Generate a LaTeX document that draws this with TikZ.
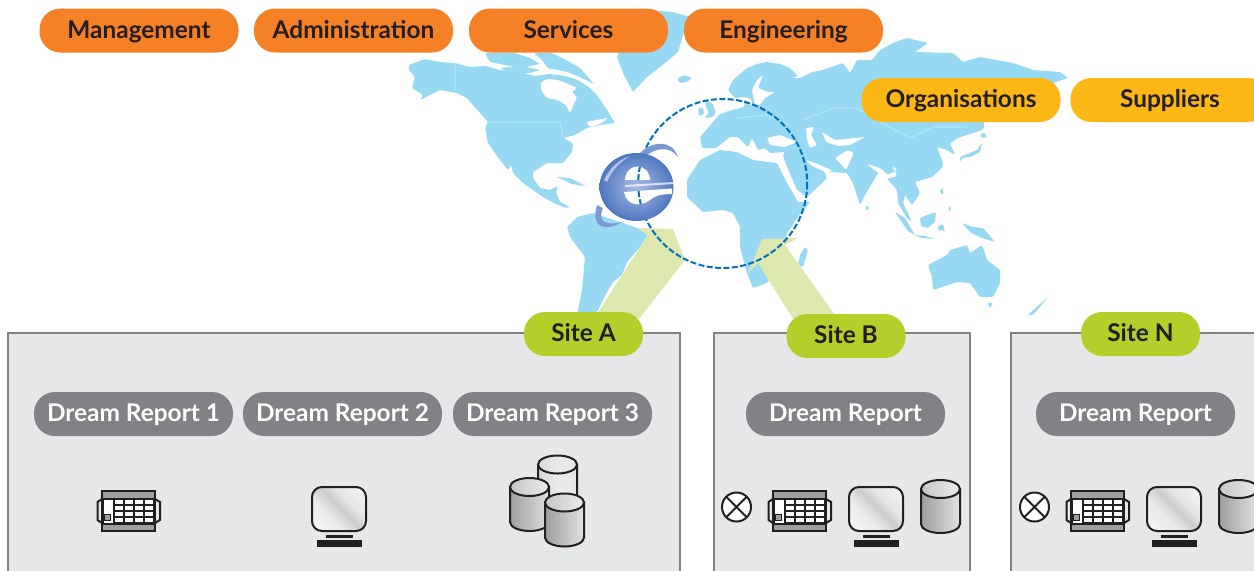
\documentclass[tikz,border=0pt]{standalone}
\usepackage{fontspec}
\setmainfont{Lato}[BoldFont=* Bold]
\usetikzlibrary{shapes.geometric}
\definecolor{land}{HTML}{97D9F3}
\definecolor{orangepill}{HTML}{F58025}
\definecolor{yellowpill}{HTML}{FDB714}
\definecolor{greenpill}{HTML}{B5CE2A}
\definecolor{greenband}{HTML}{DDE8AE}
\definecolor{greypill}{HTML}{808285}
\definecolor{sitefill}{HTML}{E6E7E8}
\definecolor{ink}{HTML}{231F20}
\definecolor{ring}{HTML}{0072BC}
\definecolor{iedark}{HTML}{4F78C2}
\pgfdeclarehorizontalshading{screenshade}{100bp}{color(0bp)=(white);color(38bp)=(white!92!black);color(52bp)=(white!80!black);color(62bp)=(white!90!black);color(100bp)=(white)}
\pgfdeclarehorizontalshading{cylshade}{100bp}{color(0bp)=(white!55!black);color(25bp)=(white!62!black);color(55bp)=(white!78!black);color(75bp)=(white!88!black);color(100bp)=(white!80!black)}
\pgfdeclarehorizontalshading{cyllight}{100bp}{color(0bp)=(white!78!black);color(50bp)=(white!92!black);color(100bp)=(white!88!black)}
\pgfdeclarehorizontalshading{toplight}{100bp}{color(0bp)=(white!70!black);color(100bp)=(white)}
\tikzset{
  pillbase/.style={rounded corners=10.5pt,minimum width=99.5pt,minimum height=22pt,inner sep=0pt,text height=8.7pt,text depth=1pt,font=\fontsize{12.2}{13}\selectfont\bfseries,text=ink},
  deptpill/.style={pillbase,fill=orangepill},
  orgpill/.style={pillbase,fill=yellowpill},
  sitepill/.style={pillbase,fill=greenpill,minimum width=59.5pt},
  reportpill/.style={pillbase,fill=greypill,text=white},
  sitebox/.style={draw=greypill,fill=sitefill,line width=1pt},
  landmass/.style={fill=land},
  sea/.style={fill=white},
  icon/.style={draw=ink,line width=1pt},
  cylinderpic/.pic={
    \path[icon,shading=cylshade] (-19.5,-17.5) -- (-19.5,17.5) arc[x radius=19.5,y radius=9,start angle=180,end angle=0] -- (19.5,-17.5) -- cycle;
    \path[icon,shading=toplight] (0,-17.5) ellipse[x radius=19.5,y radius=9];
  },
  backcylinder/.pic={
    \path[icon,shading=cyllight] (-19.5,-17.5) -- (-19.5,17.5) arc[x radius=19.5,y radius=9,start angle=180,end angle=0] -- (19.5,-17.5) -- cycle;
    \path[icon,shading=cyllight] (0,-17.5) ellipse[x radius=19.5,y radius=9];
  },
  monitorpic/.pic={
    \path[icon,rounded corners=5pt,shading=screenshade,shading angle=45] (-27,-22) rectangle (27,22);
    \fill[ink] (-13.5,25.5) rectangle (13.5,28.5);
    \fill[ink] (-22.5,30.5) rectangle (22.5,38);
  },
  keypadpic/.pic={
    \draw[icon,fill=sitefill] (-31,-9) -- (-26.5,-12) -- (26.5,-12) -- (31.5,-9) -- (31.5,9) -- (26.5,12) -- (-26.5,12) -- (-31,9) -- cycle;
    \draw[icon,fill=white!62!black] (-26.5,-20) rectangle (26.5,20);
    \fill[ink] (-26.5,-13.5) rectangle (26.5,13.5);
    \fill[white] (-24.5,-11.5) rectangle (-15.5,11.5);
    \draw[ink,fill=white!62!black,line width=.5pt] (-24,3.5) rectangle (-18,9.5);
    \foreach \cx in {-14,-4,6,16} \foreach \cy in {-11.5,-5.5,.5,6.5}
      \fill[white] (\cx,\cy) rectangle +(8,4.5);
  },
  crosspic/.pic={
    \draw[icon,fill=white] (0,0) circle[radius=14.5];
    \draw[icon] (-10.2,-10.2) -- (10.2,10.2) (-10.2,10.2) -- (10.2,-10.2);
  }
}
\begin{document}
\begin{tikzpicture}[x=0.5pt,y=-0.5pt]
\clip (0,0) rectangle (1254,570);
\fill[white] (0,0) rectangle (1254,570);
% --- map
\begin{scope}[rounded corners=0.6pt]
% North America
\fill[landmass] (409,65)--(425,59)--(440,62)--(455,63)--(470,67)--(485,66)--(500,70)--(520,72)--(535,76)--(550,74)--(565,76)--(578,80)--(590,88)--(597,95)--(607,110)--(615,123)--(600,125)--(587,128)--(575,135)--(563,138)--(573,143)--(572,152)--(563,163)--(547,163)--(533,172)--(533,178)--(540,188)--(550,190)--(558,186)--(556,192)--(560,202)--(570,207)--(566,208)--(556,204)--(543,197)--(523,183)--(513,173)--(511,165)--(508,170)--(500,160)--(488,143)--(485,128)--(488,122)--(480,113)--(467,98)--(457,93)--(440,90)--(430,95)--(420,100)--(423,95)--(412,88)--(415,77)--(409,70)--cycle;
% Hudson Bay and gulf of St Lawrence
\fill[sea] (541,82)--(548,79)--(558,80)--(568,84)--(577,88)--(572,92)--(577,97)--(570,113)--(566,105)--(558,100)--(547,98)--(541,90)--cycle;
\fill[sea] (586,122)--(596,120)--(608,118)--(600,124)--(590,127)--cycle;
% Arctic islands
\fill[landmass] (485,53)--(515,53)--(530,58)--(540,64)--(520,68)--(505,65)--(490,62)--cycle;
\fill[landmass] (534,53)--(552,53)--(566,60)--(580,68)--(594,84)--(582,78)--(568,72)--(548,68)--(542,60)--cycle;
\fill[landmass] (500,68)--(522,66)--(540,70)--(530,73)--(512,73)--cycle;
% Greenland
\fill[landmass] (625,40)--(650,10)--(672,12)--(695,18)--(683,35)--(678,52)--(660,67)--(647,77)--(633,92)--(623,73)--(617,57)--cycle;
\fill[landmass] (677,79)--(684,75)--(692,78)--(687,82)--(680,83)--cycle;
% South America
\fill[landmass] (567,227)--(577,217)--(593,213)--(620,222)--(637,228)--(648,235)--(640,247)--(627,262)--(622,275)--(613,282)--(607,292)--(597,312)--(578,316)--(578,310)--(582,290)--(585,257)--(570,237)--cycle;
% Cuba
\fill[landmass] (557,177)--(570,178)--(586,186)--(572,184)--cycle;
% Eurasia
\fill[landmass] (700,137)--(708,128)--(712,123)--(720,114)--(732,110)--(744,107)--(745,99)--(748,105)--(752,105)--(752,100)--(745,97)--(735,98)--(728,90)--(733,80)--(747,68)--(757,64)--(767,62)--(780,64)--(790,68)--(798,76)--(792,78)--(800,78)--(812,72)--(823,70)--(843,63)--(850,73)--(857,60)--(872,60)--(880,50)--(895,42)--(907,38)--(928,43)--(915,52)--(953,53)--(963,62)--(980,57)--(1013,63)--(1033,70)--(1060,72)--(1068,78)--(1050,84)--(1010,110)--(983,122)--(985,126)--(982,130)--(967,135)--(960,137)--(950,143)--(955,155)--(947,150)--(937,147)--(943,163)--(942,168)--(932,177)--(915,182)--(920,193)--(912,205)--(905,195)--(903,203)--(912,222)--(907,218)--(898,203)--(897,190)--(890,182)--(880,170)--(865,195)--(860,205)--(853,183)--(847,173)--(830,172)--(815,162)--(822,168)--(827,178)--(820,185)--(807,197)--(797,190)--(785,162)--(783,155)--(785,152)--(770,153)--(765,148)--(758,150)--(752,138)--(748,147)--(738,137)--(730,137)--(716,148)--(702,148)--cycle;
% inland seas
\fill[sea] (767,138)--(780,135)--(797,142)--(785,147)--(770,145)--cycle;
\fill[sea] (755,105)--(752,90)--(757,80)--(763,75)--(758,88)--(768,92)--(775,92)--(765,98)--(760,105)--cycle;
\fill[sea] (806,128)--(814,127)--(811,135)--(817,145)--(810,148)--(807,140)--cycle;
\fill[sea] (822,132)--(835,140)--(865,137)--(850,145)--(838,146)--(826,142)--cycle;
\fill[sea] (835,158)--(848,150)--(854,153)--(846,170)--(842,165)--cycle;
\fill[sea] (806,160)--(820,165)--(833,171)--(826,172)--(812,166)--cycle;
\fill[sea] (867,164)--(880,168)--(888,175)--(897,170)--(892,165)--(897,176)--(886,179)--cycle;
% Britain
\fill[landmass] (705,100)--(712,103)--(716,112)--(713,117)--(705,118)--(709,112)--(706,107)--cycle;
\fill[landmass] (698,109)--(703,107)--(704,114)--(699,116)--cycle;
% Africa
\fill[landmass] (687,180)--(700,160)--(720,150)--(737,152)--(753,160)--(777,163)--(787,183)--(798,202)--(810,202)--(798,217)--(787,233)--(780,263)--(767,283)--(753,288)--(747,273)--(740,247)--(740,227)--(733,213)--(723,210)--(703,212)--(687,197)--cycle;
\fill[landmass] (805,247)--(808,250)--(803,267)--(798,265)--(800,255)--cycle;
% Asia-Pacific islands
\fill[landmass] (895,212)--(905,218)--(915,235)--(908,231)--cycle;
\fill[landmass] (914,235)--(925,236)--(935,239)--(922,238)--cycle;
\fill[landmass] (920,218)--(930,214)--(936,212)--(935,222)--(928,228)--(921,226)--cycle;
\fill[landmass] (938,226)--(943,224)--(945,232)--(941,229)--(939,232)--cycle;
\fill[landmass] (940,190)--(943,188)--(943,195)--(941,194)--cycle;
\fill[landmass] (948,207)--(951,207)--(950,212)--cycle;
\fill[landmass] (962,223)--(973,227)--(983,228)--(995,242)--(982,238)--(970,232)--cycle;
\fill[landmass] (960,157)--(977,150)--(982,143)--(980,152)--(970,157)--(962,158)--(960,162)--cycle;
\fill[landmass] (980,134)--(985,133)--(987,137)--(982,138)--cycle;
\fill[landmass] (866,205)--(868,206)--(869,210)--(866,210)--cycle;
% Australia
\fill[landmass] (928,265)--(947,255)--(950,250)--(967,245)--(970,253)--(982,245)--(987,260)--(1000,270)--(1000,283)--(993,297)--(980,297)--(970,283)--(957,282)--(933,290)--(932,277)--cycle;
\fill[landmass] (987,303)--(993,303)--(990,308)--cycle;
\fill[landmass] (1028,315)--(1040,304)--(1048,297)--(1043,303)--(1033,315)--cycle;
\end{scope}
% country lines
\draw[white,opacity=.45,line width=.3pt] (803,120)--(833,108)--(857,108)--(880,122)--(910,138)--(933,127)--(967,127) (485,122)--(560,122)--(563,138) (455,63)--(455,90) (738,118)--(765,115)--(790,125);
% --- link bands
\fill[greenband] (637,228)--(673,229)--(685,260)--(628,333)--(590,325)--(648,235)--cycle;
\fill[greenband] (762,239)--(798,238)--(785,245)--(840,322)--(797,325)--(758,263)--(748,273)--cycle;
% --- coverage circle
\coordinate (hub) at (722.7,183.5);
\draw[ring,line width=1pt,dash pattern=on 3pt off 1.2pt] (hub) circle[radius=84.5];
% --- browser logo
\fill[iedark!75!white] (640,153) .. controls (650,142) and (672,138) .. (678,157) .. controls (670,145) and (652,148) .. (645,158) -- cycle;
\fill[iedark!75!white] (597,205) .. controls (590,228) and (605,232) .. (622,222) .. controls (606,226) and (597,222) .. (603,208) -- cycle;
\path[inner color=iedark!50!white,outer color=iedark] (636.5,187) ellipse[x radius=37,y radius=34];
\fill[white] (625,180) .. controls (626,162) and (649,162) .. (650,180) -- cycle;
\fill[white] (624,192) -- (672,188.5) -- (672,194) .. controls (660,194) and (655,196) .. (650,200) .. controls (640,208) and (626,205) .. (624,192) -- cycle;
\fill[white,opacity=.55] (604,180) .. controls (610,168) and (618,160) .. (630,156) .. controls (620,162) and (612,170) .. (607,182) -- cycle;
\fill[white,opacity=.7] (625,185) -- (674,182) -- (674,184) -- (625,187) -- cycle;
\begin{scope}
\clip (625,180) .. controls (626,162) and (649,162) .. (650,180) -- cycle
      (624,192) -- (672,188.5) -- (672,194) .. controls (660,194) and (655,196) .. (650,200) .. controls (640,208) and (626,205) .. (624,192) -- cycle;
\draw[ring,line width=1pt,dash pattern=on 3pt off 1.2pt] (hub) circle[radius=84.5];
\end{scope}
% --- site boxes
\draw[sitebox] (8,333) rectangle (680,600);
\draw[sitebox] (714,333) rectangle (970,600);
\draw[sitebox] (1011,333) rectangle (1300,600);
% --- top pills
\node[deptpill] (management) at (139,30.5) {Management};
\node[deptpill] (administration) at (353.5,30.5) {Administration};
\node[deptpill] (services) at (568.5,30.5) {Services};
\node[deptpill] (engineering) at (783.5,30.5) {Engineering};
\node[orgpill] (organisations) at (961,100) {Organisations};
\node[orgpill] (suppliers) at (1170,100) {Suppliers};
% --- site pills
\node[sitepill] (siteA) at (583.5,334) {Site A};
\node[sitepill] (siteB) at (846,336) {Site B};
\node[sitepill] (siteN) at (1140.5,334) {Site N};
% --- report pills
\node[reportpill] (report1) at (133.5,414) {Dream Report 1};
\node[reportpill] (report2) at (342.5,414) {Dream Report 2};
\node[reportpill] (report3) at (552.5,414) {Dream Report 3};
\node[reportpill] (reportB) at (845.5,414) {Dream Report};
\node[reportpill] (reportN) at (1135.5,414) {Dream Report};
% --- site A icons
\pic (keypadA) at (128.5,511) {keypadpic};
\pic (monitorA) at (339,509) {monitorpic};
\pic (dbA1) at (557.5,482) {backcylinder};
\pic (dbA2) at (529.5,504.5) {cylinderpic};
\pic (dbA3) at (564.5,520) {cylinderpic};
% --- site B icons
\pic (crossB) at (736.5,507) {crosspic};
\pic (keypadB) at (799.5,511) {keypadpic};
\pic (monitorB) at (876,509) {monitorpic};
\pic (dbB) at (940.5,506.5) {cylinderpic};
% --- site N icons
\pic (crossN) at (1034.5,507) {crosspic};
\pic (keypadN) at (1097.5,511) {keypadpic};
\pic (monitorN) at (1174,509) {monitorpic};
\pic (dbN) at (1238.5,506.5) {cylinderpic};
\end{tikzpicture}
\end{document}
